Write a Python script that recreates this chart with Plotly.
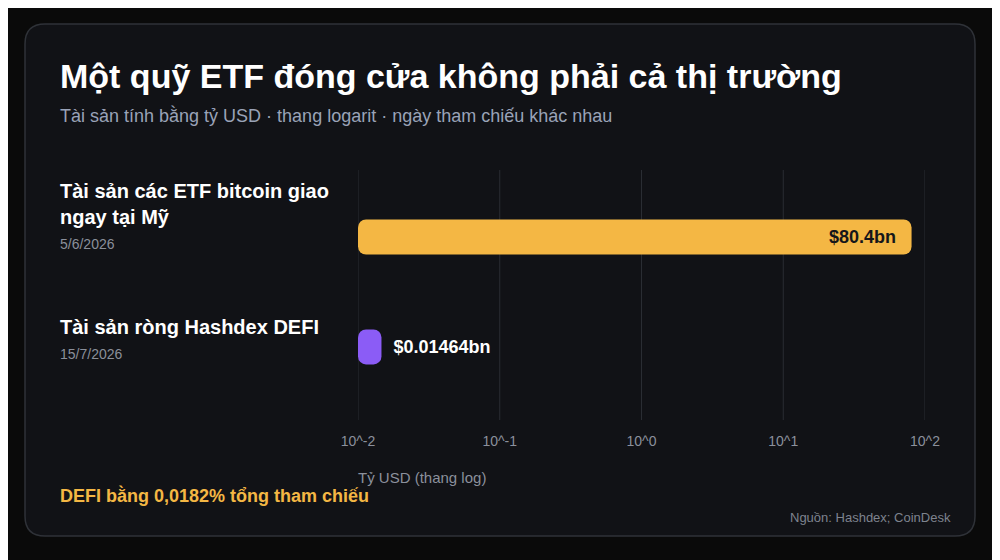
import plotly.graph_objects as go

# dados
categorias = ["Tài sản các ETF bitcoin giao<br>ngay tại Mỹ", "Tài sản ròng Hashdex DEFI"]
datas = ["5/6/2026", "15/7/2026"]
valores = [80.4, 0.01464]
cores = ["#f4b744", "#8b5cf6"]
tick_vals = [0.01, 0.1, 1, 10, 100]
tick_text = ["10^-2", "10^-1", "10^0", "10^1", "10^2"]

W, H = 1000, 560
OFF = 8  # margem do body na pagina
X0, X1, Y0, Y1 = 358, 925, 170, 420  # area do grafico na tela
FONT = "Liberation Sans, Arial, sans-serif"
BASE = tick_vals[0]


def px_x(p):
    return (p - X0) / (X1 - X0)


def px_y(p):
    return (Y1 - p) / (Y1 - Y0)


def card_path(x0, y0, x1, y1, r):
    # retangulo arredondado em coordenadas de papel
    a, b, c, d = px_x(x0), px_x(x1), px_y(y0), px_y(y1)
    rx = r / (X1 - X0)
    ry = r / (Y1 - Y0)
    return (f"M {a + rx},{c} L {b - rx},{c} Q {b},{c} {b},{c - ry} "
            f"L {b},{d + ry} Q {b},{d} {b - rx},{d} "
            f"L {a + rx},{d} Q {a},{d} {a},{d + ry} "
            f"L {a},{c - ry} Q {a},{c} {a + rx},{c} Z")


fig = go.Figure()

# barras começam em 10^-2, comprimento = valor - base
fig.add_trace(go.Bar(
    x=[v - BASE for v in valores],
    y=list(range(len(valores))),
    base=BASE,
    orientation="h",
    width=0.318,
    marker=dict(color=cores, line=dict(width=0)),
    text=[f"${v:g}bn\u2002\u2009" if i == 0 else f"\u2002${v:g}bn" for i, v in enumerate(valores)],
    textposition=["inside", "outside"],
    insidetextanchor="end",
    insidetextfont=dict(color="#15161a", size=18, family=FONT, weight="bold"),
    outsidetextfont=dict(color="#ffffff", size=18, family=FONT, weight="bold"),
    cliponaxis=False,
    hoverinfo="skip",
))

fig.add_shape(type="path", xref="paper", yref="paper", path=card_path(25, 24, 975, 536, 20),
              fillcolor="#111216", line=dict(color="#2f3238", width=1.5), layer="below")

# linhas de grade
for v in tick_vals:
    fig.add_shape(type="line", xref="x", yref="paper", x0=v, x1=v, y0=0, y1=1,
                  line=dict(color="#2a2d33", width=1), layer="below")

anns = [
    dict(x=px_x(60), y=px_y(76), text="<b>Một quỹ ETF đóng cửa không phải cả thị trường</b>",
         font=dict(size=34, color="#ffffff")),
    dict(x=px_x(60), y=px_y(115), text="Tài sản tính bằng tỷ USD · thang logarit · ngày tham chiếu khác nhau",
         font=dict(size=18, color="#9aa3b8")),
    dict(x=0, y=px_y(477), text="Tỷ USD (thang log)", font=dict(size=15, color="#8b909c")),
    dict(x=px_x(60), y=px_y(495), text="<b>DEFI bằng 0,0182% tổng tham chiếu</b>",
         font=dict(size=18, color="#f4b744")),
    dict(x=px_x(950), y=px_y(517), text="Nguồn: Hashdex; CoinDesk", xanchor="right", xshift=3,
         font=dict(size=13, color="#7e838e")),
]
for a in anns:
    a.setdefault("xanchor", "left")
    a.setdefault("xshift", -2)
    fig.add_annotation(xref="paper", yref="paper", yanchor="middle", showarrow=False,
                       font_family=FONT, **a)

for i, (cat, dt) in enumerate(zip(categorias, datas)):
    fig.add_annotation(xref="paper", yref="y", x=px_x(60), y=i, xanchor="left", yanchor="bottom",
                       xshift=-2, yshift=7, text=f"<b>{cat}</b>", align="left", showarrow=False,
                       font=dict(size=20, color="#ffffff", family=FONT))
    fig.add_annotation(xref="paper", yref="y", x=px_x(60), y=i, xanchor="left", yanchor="middle",
                       xshift=-2, yshift=-7, text=dt, align="left", showarrow=False,
                       font=dict(size=14, color="#8a8f9a", family=FONT))

fig.update_xaxes(
    type="log",
    range=[-2, 2],
    tickvals=tick_vals,
    ticktext=tick_text,
    showgrid=False,
    zeroline=False,
    showline=False,
    ticks="outside",
    ticklen=8,
    tickcolor="rgba(0,0,0,0)",
    tickfont=dict(size=14, color="#8b909c", family=FONT),
)
fig.update_yaxes(
    range=[1.664, -0.609],
    showgrid=False,
    zeroline=False,
    showticklabels=False,
    showline=False,
)

fig.update_layout(
    width=W,
    height=H,
    margin=dict(l=X0 - OFF, r=W - X1 + OFF, t=Y0 - OFF, b=H - Y1 + OFF),
    paper_bgcolor="#0a0a0a",
    plot_bgcolor="rgba(0,0,0,0)",
    barcornerradius=8,
    showlegend=False,
    font=dict(family=FONT),
)

fig.write_html("out.html")
